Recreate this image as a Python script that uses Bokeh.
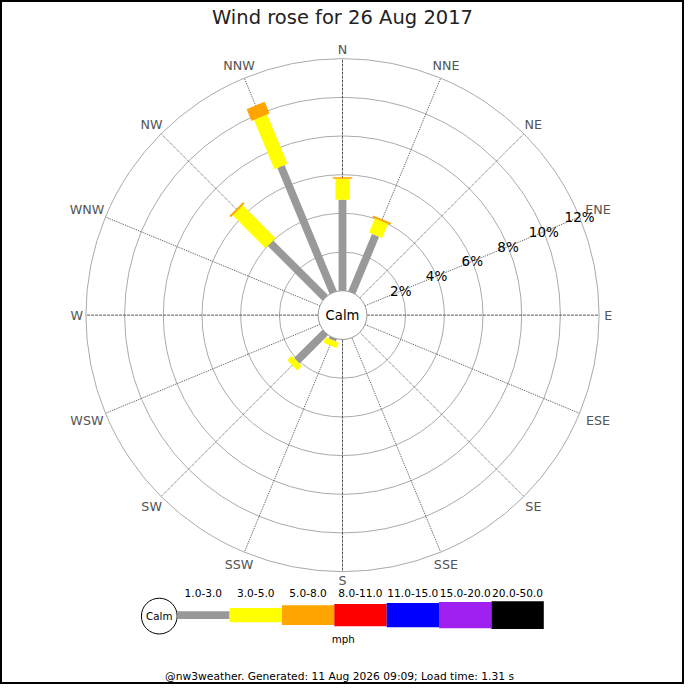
import numpy as np
from bokeh.plotting import figure
from bokeh.models import Range1d
from bokeh.embed import file_html
from bokeh.resources import INLINE
from bokeh.core.properties import value

# ---------------- data ----------------
title_text = "Wind rose for 26 Aug 2017"
footer_text = "@nw3weather. Generated: 11 Aug 2026 09:09; Load time: 1.31 s"
unit_text = "mph"
calm_text = "Calm"

directions = ["N", "NNE", "NE", "ENE", "E", "ESE", "SE", "SSE",
              "S", "SSW", "SW", "WSW", "W", "WNW", "NW", "NNW"]
speed_bins = ["1.0-3.0", "3.0-5.0", "5.0-8.0", "8.0-11.0",
              "11.0-15.0", "15.0-20.0", "20.0-50.0"]
# percent of time per direction, per speed bin
pct_1_3 = [4.70, 3.20, 0, 0, 0, 0, 0, 0, 0, 0.13, 2.08, 0, 0, 0, 4.00, 7.05]
pct_3_5 = [1.09, 0.80, 0, 0, 0, 0, 0, 0, 0, 0.30, 0.33, 0, 0, 0, 2.40, 2.76]
pct_5_8 = [0.07, 0.10, 0, 0, 0, 0, 0, 0, 0, 0.00, 0.00, 0, 0, 0, 0.10, 0.66]
pct_8_11 = [0] * 16
pct_11_15 = [0] * 16
pct_15_20 = [0] * 16
pct_20_50 = [0] * 16
ring_ticks = [2, 4, 6, 8, 10, 12]

# ---------------- style / layout ----------------
bin_colors = ["#999999", "#ffff00", "#ffa500", "#ff0000", "#0000ff", "#a020f0", "#000000"]
bin_widths = [8, 14.5, 20, 23, 25, 27, 28.5]
FONT = value("DejaVu Sans")
CX, CY = 350.0, 378.0       # rose centre (reference px, y up)
R0 = 25.0                   # calm circle radius
K = 19.8                    # px per percent
S = 684 / 700.0             # font scale

series = [pct_1_3, pct_3_5, pct_5_8, pct_8_11, pct_11_15, pct_15_20, pct_20_50]

p = figure(width=684, height=684, x_range=Range1d(0, 700), y_range=Range1d(0, 700),
           output_backend="svg", toolbar_location=None, min_border=0,
           x_axis_location=None, y_axis_location=None)
p.grid.visible = False
p.outline_line_color = "black"
p.outline_line_width = 3
p.background_fill_color = "white"
p.border_fill_color = "white"


def rpos(pct):
    return R0 + K * pct


def polar(r, bearing_deg):
    b = np.radians(bearing_deg)
    return CX + r * np.sin(b), CY + r * np.cos(b)


bearings = [i * 22.5 for i in range(len(directions))]

# rings
p.circle(x=[CX] * len(ring_ticks), y=[CY] * len(ring_ticks),
         radius=[rpos(t) for t in ring_ticks],
         fill_color=None, line_color="#aaaaaa", line_width=1)

# spokes
r_out = rpos(ring_ticks[-1])
for i, b in enumerate(bearings):
    x0, y0 = polar(R0, b)
    x1, y1 = polar(r_out, b)
    dash = "3 1" if i % 4 == 0 else "1 1"
    p.segment(x0=[x0], y0=[y0], x1=[x1], y1=[y1], line_color="#555555",
              line_width=1, line_dash=dash)

# calm circle
p.circle(x=[CX], y=[CY], radius=[R0], fill_color="white", line_color="#999999",
         line_width=1)

# bars
bx, by, bw, bh, ba, bc = [], [], [], [], [], []
for d, b in enumerate(bearings):
    cum = 0.0
    for k, s in enumerate(series):
        v = s[d]
        if v > 0:
            r1, r2 = rpos(cum), rpos(cum + v)
            mx, my = polar((r1 + r2) / 2, b)
            bx.append(mx); by.append(my)
            bw.append(r2 - r1); bh.append(bin_widths[k])
            ba.append(np.radians(90 - b)); bc.append(bin_colors[k])
        cum += v
p.rect(x=bx, y=by, width=bw, height=bh, angle=ba, fill_color=bc, line_color=None)

# direction labels
lx, ly = [], []
for name, b in zip(directions, bearings):
    r = 272 + 6 * (len(name) - 1) * abs(np.sin(np.radians(b)))
    x, y = polar(r, b)
    lx.append(x); ly.append(y)
p.text(x=lx, y=ly, text=directions, text_font=FONT, text_font_size=f"{13*S:.1f}px",
       text_color="#555555", text_align="center", text_baseline="middle")

# percent labels along ENE
px_, py_ = [], []
for t in ring_ticks:
    x, y = polar(rpos(t), 67.5)
    px_.append(x); py_.append(y)
p.text(x=px_, y=py_, text=[f"{t}%" for t in ring_ticks], text_font=FONT,
       text_font_size=f"{13.8*S:.1f}px", text_color="black",
       text_align="center", text_baseline="middle")

# calm text
p.text(x=[CX], y=[CY], text=[calm_text], text_font=FONT, text_font_size=f"{13.5*S:.1f}px",
       text_color="black", text_align="center", text_baseline="middle")

# title
p.text(x=[350], y=[683], text=[title_text], text_font=FONT,
       text_font_size=f"{20*S:.1f}px", text_color="#222222",
       text_align="center", text_baseline="middle")

# legend
LX0, LY = 180.8, 71.0
SEG = 53.6
p.circle(x=[162.5], y=[70.0], radius=[18.3], fill_color="white", line_color="black",
         line_width=1)
p.text(x=[162.5], y=[70.0], text=[calm_text], text_font=FONT,
       text_font_size=f"{10.5*S:.1f}px", text_color="black",
       text_align="center", text_baseline="middle")
lgx = [LX0 + SEG * (k + 0.5) for k in range(len(speed_bins))]
p.rect(x=lgx, y=[LY] * len(speed_bins), width=[SEG] * len(speed_bins),
       height=bin_widths, fill_color=bin_colors, line_color=None)
p.text(x=lgx, y=[93.3] * len(speed_bins), text=speed_bins, text_font=FONT,
       text_font_size=f"{10.8*S:.1f}px", text_color="black",
       text_align="center", text_baseline="middle")
p.text(x=[350.7], y=[46.7], text=[unit_text], text_font=FONT,
       text_font_size=f"{10.5*S:.1f}px", text_color="black",
       text_align="center", text_baseline="middle")

# footer
p.text(x=[347], y=[8.5], text=[footer_text], text_font=FONT,
       text_font_size=f"{11*S:.1f}px", text_color="black",
       text_align="center", text_baseline="middle")

open("out.html", "w").write(file_html(p, INLINE))
